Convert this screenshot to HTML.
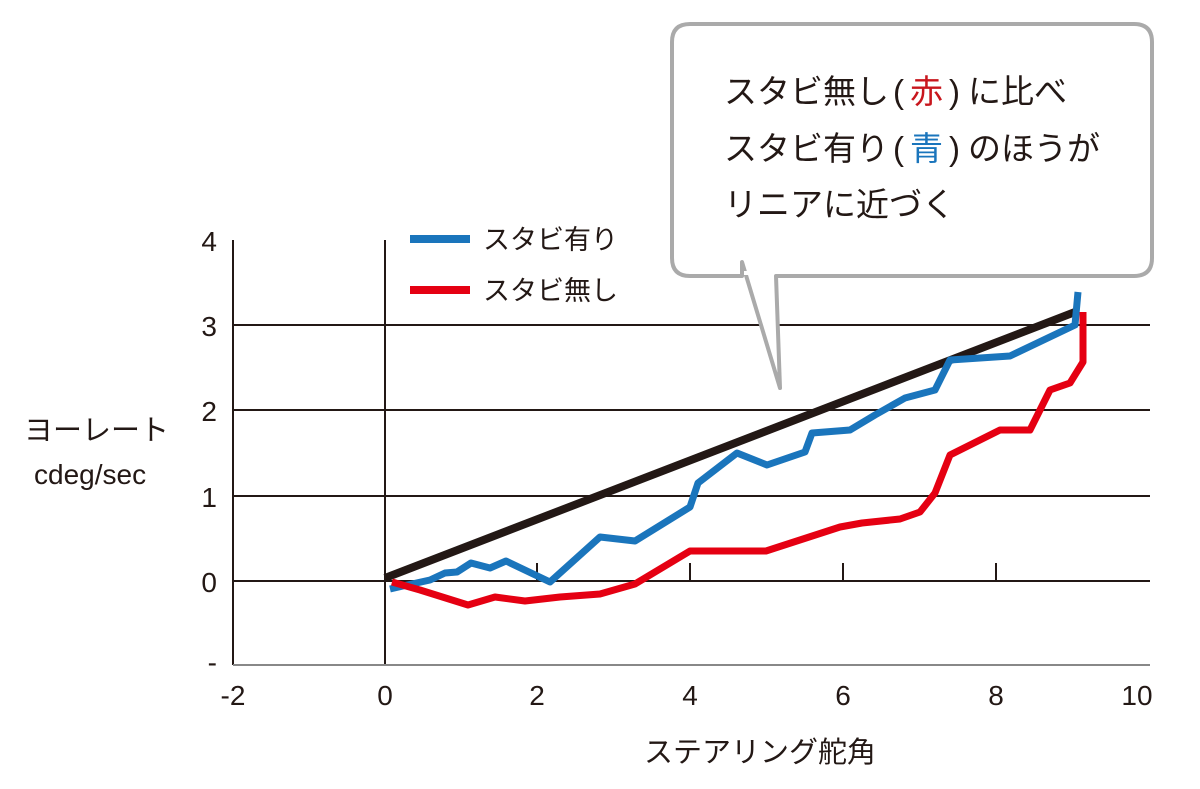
<!DOCTYPE html>
<html><head><meta charset="utf-8"><style>body{margin:0;background:#fff}svg{display:block}text{font-family:"Liberation Sans","Noto Sans CJK JP",sans-serif;fill:#231815}</style></head><body>
<svg width="1200" height="789" viewBox="0 0 1200 789">
<g stroke="#231815" stroke-width="2">
<line x1="233" y1="240" x2="233" y2="665"/>
<line x1="385" y1="240" x2="385" y2="665"/>
<line x1="233" y1="665" x2="1150" y2="665" stroke="#888"/>
<line x1="233" y1="325" x2="1150" y2="325"/>
<line x1="233" y1="410" x2="1150" y2="410"/>
<line x1="233" y1="496" x2="1150" y2="496"/>
<line x1="233" y1="581" x2="1150" y2="581"/>
<line x1="537" y1="563" x2="537" y2="581"/>
<line x1="690" y1="563" x2="690" y2="581"/>
<line x1="843" y1="563" x2="843" y2="581"/>
<line x1="996" y1="563" x2="996" y2="581"/>
</g>
<g font-size="28" text-anchor="end">
<text x="217" y="251">4</text><text x="217" y="336">3</text><text x="217" y="421">2</text><text x="217" y="507">1</text><text x="217" y="592">0</text><text x="217" y="672">-</text>
</g>
<g font-size="28" text-anchor="middle">
<text x="233" y="705">-2</text><text x="385" y="705">0</text><text x="537" y="705">2</text><text x="690" y="705">4</text><text x="843" y="705">6</text><text x="996" y="705">8</text><text x="1137" y="705">10</text>
</g>
<text x="760" y="762" font-size="29" text-anchor="middle">ステアリング舵角</text>
<text x="24" y="440" font-size="29">ヨーレート</text>
<text x="34" y="484" font-size="28">cdeg/sec</text>
<line x1="410" y1="239" x2="470" y2="239" stroke="#1a75bc" stroke-width="8"/>
<text x="483" y="249" font-size="27">スタビ有り</text>
<line x1="410" y1="290" x2="470" y2="290" stroke="#e50012" stroke-width="8"/>
<text x="483" y="300" font-size="27">スタビ無し</text>
<line x1="385" y1="578" x2="1075" y2="312" stroke="#231815" stroke-width="8"/>
<polyline fill="none" stroke="#1a75bc" stroke-width="7" stroke-linejoin="round" points="390,589 403,586 430,580 445,573 457,572 471,563 490,568 506,561 550,582 600,537 635,541 690,507 698,483 737,453 767,465 805,452 812,433 850,430 875,415 905,398 935,390 950,360 1010,356 1075,325 1078,292"/>
<polyline fill="none" stroke="#e50012" stroke-width="7" stroke-linejoin="round" points="392,582 420,590 468,605 495,597 525,601 560,597 600,594 635,584 690,551 730,551 766,551 840,527 862,523 900,519 920,512 935,493 950,455 1000,430 1030,430 1050,390 1070,383 1083,362 1083,312"/>
<path d="M690,24 H1134 Q1152,24 1152,42 V258 Q1152,276 1134,276 H776 L780,388 L742,262 V276 H690 Q672,276 672,258 V42 Q672,24 690,24 Z" fill="#fff" stroke="#aaa" stroke-width="4" stroke-linejoin="round"/>
<line x1="744" y1="273" x2="774" y2="273" stroke="#fff" stroke-width="4"/>
<g font-size="33">
<text x="724" y="103">スタビ無し<tspan dx="4">(</tspan><tspan dx="6" style="fill:#c8161d">赤</tspan><tspan dx="6">)</tspan><tspan dx="8">に比べ</tspan></text>
<text x="724" y="160">スタビ有り<tspan dx="4">(</tspan><tspan dx="6" style="fill:#1a75bc">青</tspan><tspan dx="6">)</tspan><tspan dx="8">のほうが</tspan></text>
<text x="724" y="216">リニアに近づく</text>
</g>
</svg>
</body></html>
